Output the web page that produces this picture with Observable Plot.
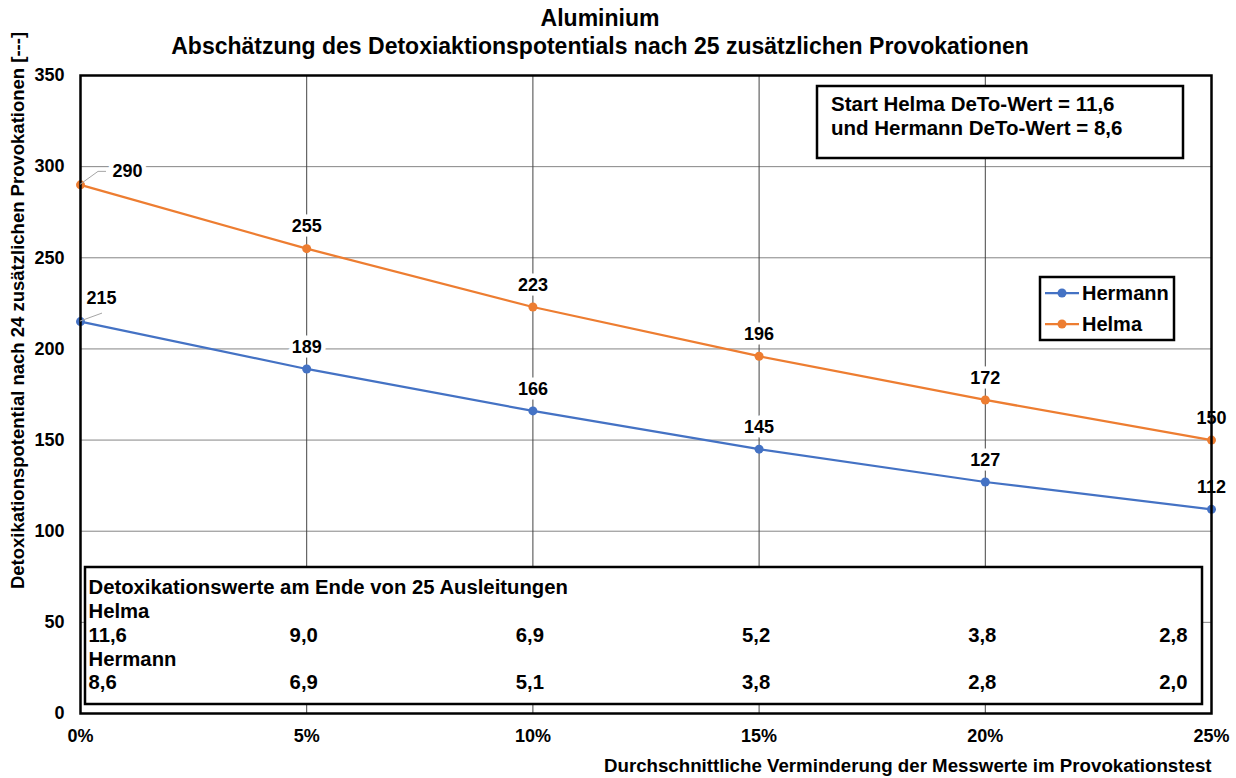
<!DOCTYPE html>
<html><head><meta charset="utf-8">
<script src="https://cdn.jsdelivr.net/npm/d3@7"></script>
<script src="https://cdn.jsdelivr.net/npm/@observablehq/plot@0.6"></script>
<style>
body{margin:0;background:#fff;}
svg{font-family:"Liberation Sans",Arial,sans-serif;font-weight:bold;}
</style>
</head><body><div id="chart"></div>
<script>
const reduction = [0, 5, 10, 15, 20, 25];
const helma = [290, 255, 223, 196, 172, 150];
const hermann = [215, 189, 166, 145, 127, 112];
const helmaEnd = ["11,6", "9,0", "6,9", "5,2", "3,8", "2,8"];
const hermannEnd = ["8,6", "6,9", "5,1", "3,8", "2,8", "2,0"];
const yTicks = [0, 50, 100, 150, 200, 250, 300, 350];
const xTicks = [0, 5, 10, 15, 20, 25];
const seriesNames = ["Hermann", "Helma"];
const seriesColors = ["#4472C4", "#ED7D31"];
const title1 = "Aluminium";
const title2 = "Abschätzung des Detoxiaktionspotentials nach 25 zusätzlichen Provokationen";
const xLabel = "Durchschnittliche Verminderung der Messwerte im Provokationstest";
const yLabel = "Detoxikationspotential nach 24 zusätzlichen Provokationen [---]";
const noteLines = ["Start Helma DeTo-Wert = 11,6", "und Hermann DeTo-Wert = 8,6"];
const boxTitle = "Detoxikationswerte am Ende von 25 Ausleitungen";

const data = [
  ...hermann.map((v, i) => ({series: "Hermann", x: reduction[i], y: v, i})),
  ...helma.map((v, i) => ({series: "Helma", x: reduction[i], y: v, i}))
];
const endRows = reduction.map((x, i) => ({x, i, helma: helmaEnd[i], hermann: hermannEnd[i]}));
const n = reduction.length;

const labelStyle = {fontSize: 18, fontWeight: "bold", fill: "black", stroke: "white", strokeWidth: 9, strokeLinejoin: "round"};
const boxFont = {fontSize: 20.3, fontWeight: "bold", lineAnchor: "middle"};

const plot = Plot.plot({
  width: 1236,
  height: 778,
  marginLeft: 80,
  marginRight: 25,
  marginTop: 75,
  marginBottom: 65,
  x: {domain: [0, 25], ticks: xTicks},
  y: {domain: [0, 350], ticks: yTicks},
  color: {domain: seriesNames, range: seriesColors},
  marks: [
    Plot.gridY(yTicks, {stroke: "#858585", strokeOpacity: 1, strokeWidth: 1}),
    Plot.gridX(xTicks, {stroke: "#444", strokeOpacity: 1, strokeWidth: 1}),
    Plot.axisY(yTicks, {tickSize: 0, tickPadding: 16, fontSize: 18, fontWeight: "bold", label: null}),
    Plot.axisX(xTicks, {tickSize: 0, tickPadding: 16, fontSize: 18, fontWeight: "bold", label: null, tickFormat: d => d + "%"}),
    Plot.line(data, {x: "x", y: "y", z: "series", stroke: "series", strokeWidth: 2.25}),
    Plot.dot(data, {x: "x", y: "y", fill: "series", r: 4.5}),
    Plot.text(data.filter(d => d.i > 0), {x: "x", y: "y", text: d => String(d.y), dy: -22, ...labelStyle}),
    Plot.text(data.filter(d => d.i === 0 && d.series === "Helma"), {x: "x", y: "y", text: d => String(d.y), dx: 47, dy: -14, ...labelStyle}),
    Plot.text(data.filter(d => d.i === 0 && d.series === "Hermann"), {x: "x", y: "y", text: d => String(d.y), dx: 21, dy: -23, ...labelStyle}),
    // bottom table text
    Plot.text([boxTitle], {frameAnchor: "bottom-left", dx: 8, dy: -126, textAnchor: "start", ...boxFont}),
    Plot.text(["Helma"], {frameAnchor: "bottom-left", dx: 8, dy: -102, textAnchor: "start", ...boxFont}),
    Plot.text(["Hermann"], {frameAnchor: "bottom-left", dx: 8, dy: -54, textAnchor: "start", ...boxFont}),
    Plot.text(endRows.filter(d => d.i === 0), {x: "x", frameAnchor: "bottom", text: "helma", dx: 8, dy: -78, textAnchor: "start", ...boxFont}),
    Plot.text(endRows.filter(d => d.i === 0), {x: "x", frameAnchor: "bottom", text: "hermann", dx: 8, dy: -31, textAnchor: "start", ...boxFont}),
    Plot.text(endRows.filter(d => d.i > 0 && d.i < n - 1), {x: "x", frameAnchor: "bottom", text: "helma", dx: -3, dy: -78, textAnchor: "middle", ...boxFont}),
    Plot.text(endRows.filter(d => d.i > 0 && d.i < n - 1), {x: "x", frameAnchor: "bottom", text: "hermann", dx: -3, dy: -31, textAnchor: "middle", ...boxFont}),
    Plot.text(endRows.filter(d => d.i === n - 1), {x: "x", frameAnchor: "bottom", text: "helma", dx: -24, dy: -78, textAnchor: "end", ...boxFont}),
    Plot.text(endRows.filter(d => d.i === n - 1), {x: "x", frameAnchor: "bottom", text: "hermann", dx: -24, dy: -31, textAnchor: "end", ...boxFont}),
    // titles and axis labels
    Plot.text([title1], {frameAnchor: "top", dx: -46, dy: -57, fontSize: 23, fontWeight: "bold", lineAnchor: "middle", textAnchor: "middle"}),
    Plot.text([title2], {frameAnchor: "top", dx: -46, dy: -29, fontSize: 23, fontWeight: "bold", lineAnchor: "middle", textAnchor: "middle"}),
    Plot.text([xLabel], {frameAnchor: "bottom-right", dy: 53, textAnchor: "end", lineAnchor: "middle", fontSize: 18.7, fontWeight: "bold"}),
    Plot.text([yLabel], {frameAnchor: "left", dx: -62, dy: -84, rotate: -90, textAnchor: "middle", lineAnchor: "middle", fontSize: 18.5, fontWeight: "bold"}),
    Plot.frame({stroke: "black", strokeWidth: 2.5})
  ]
});

document.getElementById("chart").appendChild(plot);

// annotations drawn relative to the plot's own scales
const svg = d3.select(plot);
const xs = plot.scale("x"), ys = plot.scale("y");
const X = v => xs.apply(v), Y = v => ys.apply(v);
const pLeft = X(0), pRight = X(25), pTop = Y(350), pBottom = Y(0);

// bottom table box: white, placed under the text marks
svg.insert("rect", "g[aria-label='text']")
  .attr("x", pLeft + 5).attr("y", pBottom - 146).attr("width", pRight - pLeft - 14).attr("height", 137)
  .attr("fill", "white").attr("stroke", "black").attr("stroke-width", 2.5);

// leader lines for first labels
const lead = svg.append("g").attr("fill", "none").attr("stroke", "#a6a6a6").attr("stroke-width", 1);
lead.append("path").attr("d", `M${X(0)},${Y(helma[0])}L${X(0) + 18},${Y(helma[0]) - 13}H${X(0) + 26}`);
lead.append("path").attr("d", `M${X(0)},${Y(hermann[0])}L${X(0) + 22},${Y(hermann[0]) - 8}`);

// note box (top right)
const note = svg.append("g").attr("text-anchor", "start");
note.append("rect").attr("x", pRight - 394).attr("y", pTop + 11).attr("width", 366).attr("height", 72)
  .attr("fill", "white").attr("stroke", "black").attr("stroke-width", 2.5);
noteLines.forEach((t, k) => {
  note.append("text").attr("x", pRight - 380).attr("y", pTop + 29 + k * 24).attr("dy", "0.35em")
    .attr("font-size", 20.5).attr("font-weight", "bold").text(t);
});

// legend box
const lg = svg.append("g").attr("text-anchor", "start");
lg.append("rect").attr("x", pRight - 171).attr("y", pTop + 202).attr("width", 134).attr("height", 63)
  .attr("fill", "white").attr("stroke", "black").attr("stroke-width", 2.5);
seriesNames.forEach((name, k) => {
  const yy = pTop + 218 + k * 31;
  const x0 = pRight - 166;
  lg.append("line").attr("x1", x0).attr("x2", x0 + 34).attr("y1", yy).attr("y2", yy)
    .attr("stroke", seriesColors[k]).attr("stroke-width", 2.25);
  lg.append("circle").attr("cx", x0 + 17).attr("cy", yy).attr("r", 4.5).attr("fill", seriesColors[k]);
  lg.append("text").attr("x", x0 + 37).attr("y", yy).attr("dy", "0.35em")
    .attr("font-size", 20).attr("font-weight", "bold").text(name);
});
</script>
</body></html>
